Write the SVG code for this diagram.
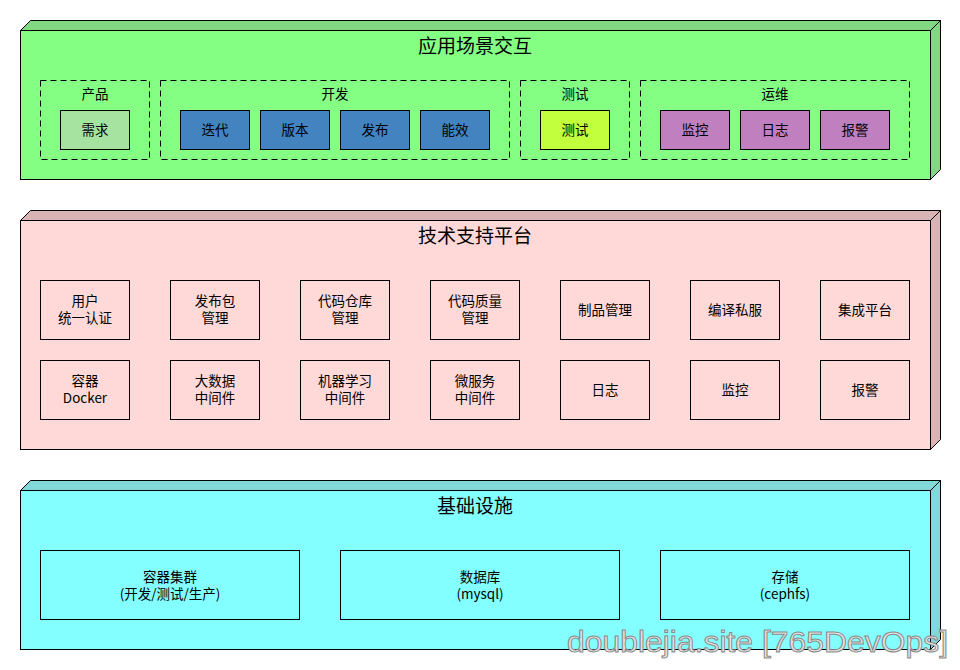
<svg xmlns="http://www.w3.org/2000/svg" width="960" height="670" viewBox="0 0 960 670">
<style>
text{font-family:"Noto Sans CJK SC","Noto Sans",sans-serif;fill:#000;text-anchor:middle}
.t{font-size:19px}
.l{font-size:13.5px}
.e{stroke:#000;stroke-width:1}
.g{fill:none;stroke:#000;stroke-width:1;stroke-dasharray:6 4}
.n{stroke:#000;stroke-width:1}
.wm{font-family:"Liberation Sans",Arial,sans-serif;font-size:30px;fill:#e6e6e6;stroke:#8a8a8a;stroke-width:1;text-anchor:start}
</style>
<rect width="960" height="670" fill="#fff"/>
<g id="layer-app">
<polygon class="e" points="20.5,30.5 30.5,20.5 940.5,20.5 930.5,30.5" fill="#82d882"/>
<polygon class="e" points="930.5,30.5 940.5,20.5 940.5,169.5 930.5,179.5" fill="#82d882"/>
<rect class="e" x="20.5" y="30.5" width="910" height="149" fill="#84ff84"/>
<text class="t" x="475" y="53">应用场景交互</text>
</g>
<g id="grp-product"><rect class="g" x="40.5" y="80.5" width="109" height="79"/><text class="l" x="95" y="99">产品</text></g>
<g id="grp-dev"><rect class="g" x="160.5" y="80.5" width="349" height="79"/><text class="l" x="335" y="99">开发</text></g>
<g id="grp-test"><rect class="g" x="520.5" y="80.5" width="109" height="79"/><text class="l" x="575" y="99">测试</text></g>
<g id="grp-ops"><rect class="g" x="640.5" y="80.5" width="269" height="79"/><text class="l" x="775" y="99">运维</text></g>
<g id="n-req"><rect class="n" x="60.5" y="110.5" width="69" height="39" fill="#a6e3a1"/><text class="l" x="95" y="135">需求</text></g>
<g id="n-iter"><rect class="n" x="180.5" y="110.5" width="69" height="39" fill="#4283c0"/><text class="l" x="215" y="135">迭代</text></g>
<g id="n-ver"><rect class="n" x="260.5" y="110.5" width="69" height="39" fill="#4283c0"/><text class="l" x="295" y="135">版本</text></g>
<g id="n-rel"><rect class="n" x="340.5" y="110.5" width="69" height="39" fill="#4283c0"/><text class="l" x="375" y="135">发布</text></g>
<g id="n-eff"><rect class="n" x="420.5" y="110.5" width="69" height="39" fill="#4283c0"/><text class="l" x="455" y="135">能效</text></g>
<g id="n-test"><rect class="n" x="540.5" y="110.5" width="69" height="39" fill="#c2ff3d"/><text class="l" x="575" y="135">测试</text></g>
<g id="n-mon"><rect class="n" x="660.5" y="110.5" width="69" height="39" fill="#c080c0"/><text class="l" x="695" y="135">监控</text></g>
<g id="n-log"><rect class="n" x="740.5" y="110.5" width="69" height="39" fill="#c080c0"/><text class="l" x="775" y="135">日志</text></g>
<g id="n-alarm"><rect class="n" x="820.5" y="110.5" width="69" height="39" fill="#c080c0"/><text class="l" x="855" y="135">报警</text></g>

<g id="layer-tech">
<polygon class="e" points="20.5,220.5 30.5,210.5 940.5,210.5 930.5,220.5" fill="#d8b4b4"/>
<polygon class="e" points="930.5,220.5 940.5,210.5 940.5,439.5 930.5,449.5" fill="#d8b4b4"/>
<rect class="e" x="20.5" y="220.5" width="910" height="229" fill="#ffd8d8"/>
<text class="t" x="475" y="243">技术支持平台</text>
</g>
<g id="t-user"><rect class="n" x="40.5" y="280.5" width="89" height="59" fill="none"/><text class="l" x="85" y="306">用户</text><text class="l" x="85" y="323">统一认证</text></g>
<g id="t-pkg"><rect class="n" x="170.5" y="280.5" width="89" height="59" fill="none"/><text class="l" x="215" y="306">发布包</text><text class="l" x="215" y="323">管理</text></g>
<g id="t-repo"><rect class="n" x="300.5" y="280.5" width="89" height="59" fill="none"/><text class="l" x="345" y="306">代码仓库</text><text class="l" x="345" y="323">管理</text></g>
<g id="t-quality"><rect class="n" x="430.5" y="280.5" width="89" height="59" fill="none"/><text class="l" x="475" y="306">代码质量</text><text class="l" x="475" y="323">管理</text></g>
<g id="t-artifact"><rect class="n" x="560.5" y="280.5" width="89" height="59" fill="none"/><text class="l" x="605" y="315">制品管理</text></g>
<g id="t-compile"><rect class="n" x="690.5" y="280.5" width="89" height="59" fill="none"/><text class="l" x="735" y="315">编译私服</text></g>
<g id="t-ci"><rect class="n" x="820.5" y="280.5" width="89" height="59" fill="none"/><text class="l" x="865" y="315">集成平台</text></g>
<g id="t-docker"><rect class="n" x="40.5" y="360.5" width="89" height="59" fill="none"/><text class="l" x="85" y="386">容器</text><text class="l" x="85" y="403">Docker</text></g>
<g id="t-bigdata"><rect class="n" x="170.5" y="360.5" width="89" height="59" fill="none"/><text class="l" x="215" y="386">大数据</text><text class="l" x="215" y="403">中间件</text></g>
<g id="t-ml"><rect class="n" x="300.5" y="360.5" width="89" height="59" fill="none"/><text class="l" x="345" y="386">机器学习</text><text class="l" x="345" y="403">中间件</text></g>
<g id="t-micro"><rect class="n" x="430.5" y="360.5" width="89" height="59" fill="none"/><text class="l" x="475" y="386">微服务</text><text class="l" x="475" y="403">中间件</text></g>
<g id="t-log"><rect class="n" x="560.5" y="360.5" width="89" height="59" fill="none"/><text class="l" x="605" y="395">日志</text></g>
<g id="t-mon"><rect class="n" x="690.5" y="360.5" width="89" height="59" fill="none"/><text class="l" x="735" y="395">监控</text></g>
<g id="t-alarm"><rect class="n" x="820.5" y="360.5" width="89" height="59" fill="none"/><text class="l" x="865" y="395">报警</text></g>

<g id="layer-infra">
<polygon class="e" points="20.5,490.5 30.5,480.5 940.5,480.5 930.5,490.5" fill="#82d8d8"/>
<polygon class="e" points="930.5,490.5 940.5,480.5 940.5,639.5 930.5,649.5" fill="#82d8d8"/>
<rect class="e" x="20.5" y="490.5" width="910" height="159" fill="#84ffff"/>
<text class="t" x="475" y="513">基础设施</text>
</g>
<g id="i-cluster"><rect class="n" x="40.5" y="550.5" width="259" height="69" fill="none"/><text class="l" x="170" y="582">容器集群</text><text class="l" x="170" y="599">(开发/测试/生产)</text></g>
<g id="i-db"><rect class="n" x="340.5" y="550.5" width="279" height="69" fill="none"/><text class="l" x="480" y="582">数据库</text><text class="l" x="480" y="599">(mysql)</text></g>
<g id="i-storage"><rect class="n" x="660.5" y="550.5" width="249" height="69" fill="none"/><text class="l" x="785" y="582">存储</text><text class="l" x="785" y="599">(cephfs)</text></g>
<g id="connectors"></g>
<text class="wm" x="567" y="652" textLength="381" lengthAdjust="spacingAndGlyphs">doublejia.site [765DevOps]</text>
</svg>
